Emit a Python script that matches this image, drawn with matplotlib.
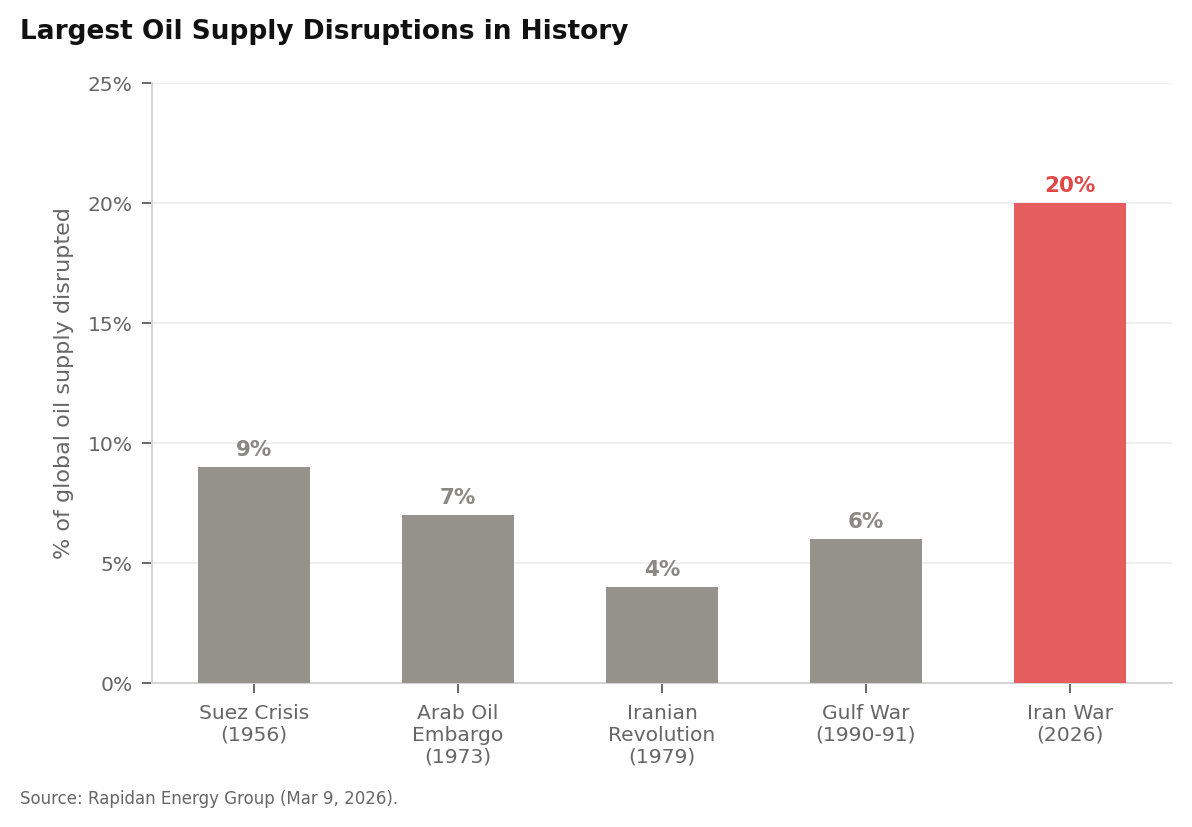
import matplotlib
matplotlib.use('Agg')
import matplotlib.pyplot as plt
from matplotlib.ticker import FuncFormatter

events = ['Suez Crisis\n(1956)', 'Arab Oil\nEmbargo\n(1973)', 'Iranian\nRevolution\n(1979)',
          'Gulf War\n(1990-91)', 'Iran War\n(2026)']
share = [9, 7, 4, 6, 20]
highlight = [False, False, False, False, True]

grey = '#94928b'
red = '#e55d5d'
bar_colors = [red if h else grey for h in highlight]
label_colors = ['#e04848' if h else '#8a8880' for h in highlight]

plt.rcParams['font.family'] = ['DejaVu Sans']
fig = plt.figure(figsize=(5.96, 4.135), dpi=200)
ax = fig.add_axes([0.1275, 0.1741, 0.8557, 0.7255])

x = range(len(events))
bars = ax.bar(x, share, width=0.55, color=bar_colors, zorder=3)
for b, v, c in zip(bars, share, label_colors):
    ax.annotate(f'{v}%', (b.get_x() + b.get_width() / 2, v), xytext=(0, 2.5),
                textcoords='offset points', ha='center', va='bottom',
                fontsize=7.7, fontweight='bold', color=c)

ax.set_xlim(-0.5, 4.5)
ax.set_ylim(0, 25)
ax.set_yticks([0, 5, 10, 15, 20, 25])
ax.yaxis.set_major_formatter(FuncFormatter(lambda v, p: f'{v:.0f}%'))
ax.set_xticks(list(x))
ax.set_xticklabels(events)
ax.grid(axis='y', color='#eeeeee', linewidth=0.6, zorder=0)
ax.tick_params(axis='both', labelsize=7.3, labelcolor='#666666', color='#666666',
               length=3.5, width=0.7)
ax.tick_params(axis='x', pad=4)
ax.tick_params(axis='y', pad=3.5)
for s in ['top', 'right']:
    ax.spines[s].set_visible(False)
for s in ['left', 'bottom']:
    ax.spines[s].set_color('#d4d4d4')
    ax.spines[s].set_linewidth(0.7)
ax.set_ylabel('% of global oil supply disrupted', fontsize=8, color='#666666', labelpad=5)

fig.text(20 / 1192, 1 - 32 / 827, 'Largest Oil Supply Disruptions in History',
         fontsize=9.5, fontweight='bold', color='#111111', va='center', ha='left')
fig.text(20 / 1192, 1 - 799 / 827, 'Source: Rapidan Energy Group (Mar 9, 2026).',
         fontsize=6, color='#666666', va='center', ha='left')

fig.savefig('out.png', dpi=200)
